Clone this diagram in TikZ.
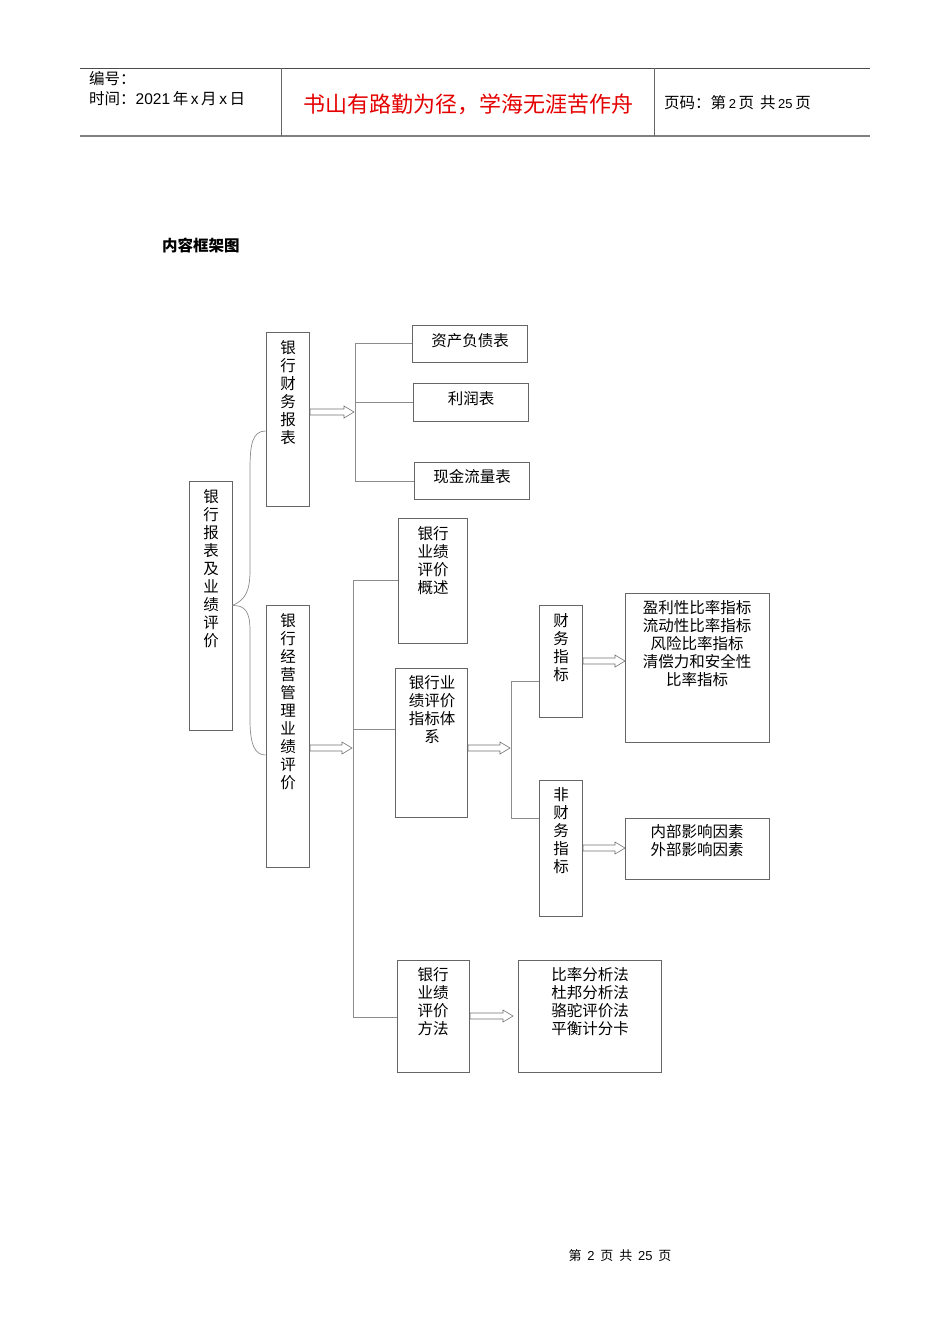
\documentclass[tikz,border=0pt]{standalone}
\usepackage{fontspec}
\setmainfont{Noto Sans CJK SC}
\newfontfamily\latinf{Liberation Sans}
\begin{document}
\begin{tikzpicture}[x=1pt,y=-1pt,
  bx/.style={draw=black!60,line width=0.7pt},
  ln/.style={draw=black!45,line width=0.7pt},
  tx/.style={anchor=north,align=center,font=\fontsize{15.5}{18}\selectfont,inner sep=0pt},
  ha/.style={draw=black!55,line width=0.6pt,fill=white}]
\useasboundingbox (0,0) rectangle (950,1344);
\newcommand\harrow[3]{\draw[ha] (#1,#3-3) -- (#2-10,#3-3) -- (#2-10,#3-6) -- (#2,#3) -- (#2-10,#3+6) -- (#2-10,#3+3) -- (#1,#3+3) -- cycle;}
\newcommand\bxat[5]{\node[bx,minimum width=#4-#2,minimum height=#5-#3,inner sep=0pt] (#1) at ({(#2+#4)/2},{(#3+#5)/2}) {};}
% header
\draw[black!70,line width=0.8pt] (80,68) -- (870,68);
\draw[black!50,line width=1.4pt] (80,136) -- (870,136);
\draw[black!60,line width=0.7pt] (281,68) -- (281,136) (654,68) -- (654,136);
\node[anchor=west,font=\fontsize{15.5}{16}\selectfont,inner sep=0pt] (h1) at (89,79) {编号：};
\node[anchor=west,font=\fontsize{15.5}{16}\selectfont,inner sep=0pt] (h2) at (89,99) {时间：{\latinf 2021}\,年\,{\latinf x}\,月\,{\latinf x}\,日};
\node[font=\fontsize{22}{24}\selectfont,text=red!90!black,inner sep=0pt] (h3) at (468,104) {书山有路勤为径，学海无涯苦作舟};
\node[anchor=west,font=\fontsize{15.5}{16}\selectfont,inner sep=0pt] (h4) at (664,103) {页码：第\,{\latinf\fontsize{13}{14}\selectfont 2}\,页\ \,共\,{\latinf\fontsize{13}{14}\selectfont 25}\,页};
\node[anchor=west,font=\fontsize{15.5}{16}\selectfont\bfseries,inner sep=0pt] (t) at (162,246) {内容框架图};
\node[font=\fontsize{13}{14}\selectfont,inner sep=0pt] (ft) at (620,1256) {第\ \ {\latinf 2}\ \ 页\ \ 共\ \ {\latinf 25}\ \ 页};
% boxes
\bxat{r}{189}{481}{232}{730}
\bxat{a1}{266}{332}{309}{506}
\bxat{a2}{266}{605}{309}{867}
\bxat{b1}{412}{325}{527}{362}
\bxat{b2}{413}{383}{528}{421}
\bxat{b3}{414}{462}{529}{499}
\bxat{c1}{398}{518}{467}{643}
\bxat{c2}{395}{668}{467}{817}
\bxat{c3}{397}{960}{469}{1072}
\bxat{d1}{539}{605}{582}{717}
\bxat{d2}{539}{780}{582}{916}
\bxat{e1}{625}{593}{769}{742}
\bxat{e2}{625}{818}{769}{879}
\bxat{e3}{518}{960}{661}{1072}
% texts
\node[tx] at (211,489) {银\\行\\报\\表\\及\\业\\绩\\评\\价};
\node[tx] at (288,340) {银\\行\\财\\务\\报\\表};
\node[tx] at (288,613) {银\\行\\经\\营\\管\\理\\业\\绩\\评\\价};
\node[tx] at (470,333) {资产负债表};
\node[tx] at (471,391) {利润表};
\node[tx] at (472,469) {现金流量表};
\node[tx] at (433,526) {银行\\业绩\\评价\\概述};
\node[tx] at (432,675) {银行业\\绩评价\\指标体\\系};
\node[tx] at (433,967) {银行\\业绩\\评价\\方法};
\node[tx] at (561,613) {财\\务\\指\\标};
\node[tx] at (561,787) {非\\财\\务\\指\\标};
\node[tx] at (697,600) {盈利性比率指标\\流动性比率指标\\风险比率指标\\清偿力和安全性\\比率指标};
\node[tx] at (697,824) {内部影响因素\\外部影响因素};
\node[tx] at (590,967) {比率分析法\\杜邦分析法\\骆驼评价法\\平衡计分卡};
% brace
\draw[ln] (a1.west |- 0,431) .. controls (252,431) and (250,445) .. (250,470) -- (250,570) .. controls (250,592) and (245,600) .. (r.east);
\draw[ln] (r.east) .. controls (245,605) and (250,612) .. (250,630) -- (250,720) .. controls (250,745) and (255,755) .. (a2.west |- 0,755);
% brackets
\draw[ln] (b1.west) -| (355,481) -- (b3.west |- 0,481);
\draw[ln] (355,402) -- (b2.west);
\draw[ln] (c1.west |- 0,580) -| (353,1017) -- (c3.west |- 0,1017);
\draw[ln] (353,729) -- (c2.west |- 0,729);
\draw[ln] (d1.west |- 0,681) -| (511,818) -- (d2.west |- 0,818);
% hollow arrows
\harrow{310}{354}{412}
\harrow{310}{352}{748}
\harrow{468}{510}{748}
\harrow{583}{625}{661}
\harrow{583}{625}{848}
\harrow{470}{513}{1016}
\end{tikzpicture}
\end{document}
